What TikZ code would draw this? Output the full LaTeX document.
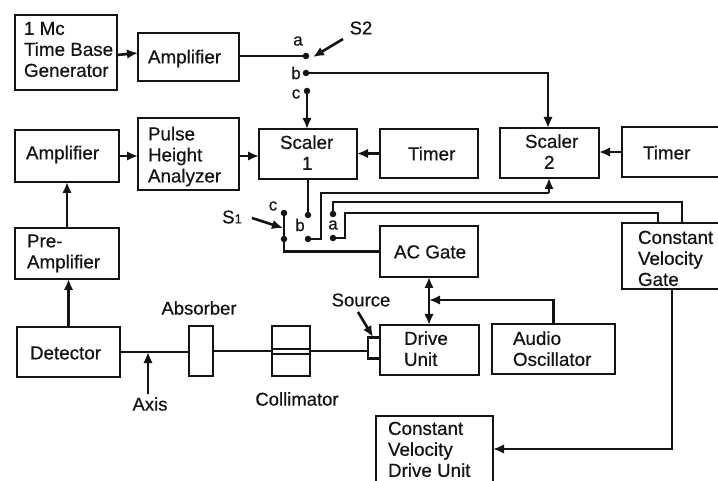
\documentclass[tikz,border=0pt]{standalone}
\usepackage{fontspec}
\setmainfont[FakeBold=0.5]{Liberation Sans}
\usetikzlibrary{arrows.meta,calc}
\tikzset{
  blk/.style={draw=ink,line width=2.6pt,fill=white,inner sep=0pt,outer sep=0pt,rectangle},
  lbl/.style={inner sep=0pt,font=\fontsize{18.5}{21}\selectfont,text=ink},
  sw/.style={inner sep=0pt,font=\fontsize{17}{19}\selectfont,text=ink},
  wire/.style={draw=ink,line width=2.6pt},
  arr/.style={wire,-{Latex[length=11pt,width=9.5pt]}},
  darr/.style={wire,{Latex[length=11pt,width=9.5pt]}-{Latex[length=11pt,width=9.5pt]}},
  dot/.style={circle,fill=ink,inner sep=0pt,minimum size=6.5pt},
}
\definecolor{ink}{gray}{0.08}
% name, x1, y1, x2, y2, text left x, text centre y, text
\newcommand\blkbox[8]{%
  \pgfmathsetmacro\bcx{(#2+#4)/2}\pgfmathsetmacro\bcy{(#3+#5)/2}%
  \pgfmathsetmacro\bw{#4-#2}\pgfmathsetmacro\bh{#5-#3}%
  \pgfmathsetmacro\bdx{#6-\bcx}\pgfmathsetmacro\bdy{\bcy-#7-7.5}%
  \node[blk,minimum width=\bw pt,minimum height=\bh pt] (#1) at (\bcx,\bcy)
    {\fontsize{18.8}{21}\selectfont\color{ink}\smash{\makebox[0pt][l]{\hspace*{\bdx pt}\raisebox{\bdy pt}{\begin{tabular}[c]{@{}l@{}}#8\end{tabular}}}}};%
}
\begin{document}
\begin{tikzpicture}[x=1pt,y=-1pt]
\clip (0,0) rectangle (718,481);
\blkbox{tbg}{15}{15}{117}{90}{24}{48.5}{1 Mc\\Time Base\\Generator}
\blkbox{ampa}{138}{33}{239}{81}{148}{56}{Amplifier}
\blkbox{ampb}{15}{130}{119}{182}{26}{152}{Amplifier}
\blkbox{pha}{138}{118}{239}{190}{148}{154}{Pulse\\Height\\Analyzer}
\blkbox{sca}{259}{129}{357}{179}{280}{152}{Scaler\\\hspace*{22pt}1}
\blkbox{tima}{380}{129}{478}{178}{408}{153}{Timer}
\blkbox{scb}{500}{128}{599}{178}{525}{151}{Scaler\\\hspace*{19pt}2}
\blkbox{timb}{622}{127}{724}{177}{643}{152}{Timer}
\blkbox{acg}{380}{226}{478}{277}{394}{251}{AC Gate}
\blkbox{cvg}{622}{223}{724}{289}{638}{257.5}{Constant\\Velocity\\Gate}
\blkbox{pre}{15}{228}{119}{279}{27}{250.5}{Pre-\\Amplifier}
\blkbox{det}{17}{327}{120}{377}{30}{352}{Detector}
\blkbox{drv}{380}{325}{479}{375}{404}{348}{Drive\\Unit}
\blkbox{aud}{492}{324}{615}{374}{513}{348}{Audio\\Oscillator}
\blkbox{cvd}{376}{416}{493}{495}{388}{448.5}{Constant\\Velocity\\Drive Unit}
\node[blk,minimum width=24pt,minimum height=50pt] (abs) at (201,351) {};
\node[blk,minimum width=38pt,minimum height=50pt] (col) at (291,351) {};
\node[blk,minimum width=12pt,minimum height=21pt] (src) at (374,348) {};

% switch contacts
\node[dot] (s2a) at (306,56) {};
\node[dot] (s2b) at (306,73) {};
\node[dot] (s2c) at (307,91) {};
\node[dot] (s1c) at (284,213) {};
\node[dot] (s1p) at (284,239) {};
\node[dot] (s1b) at (308,215) {};
\node[dot] (s1d) at (308,239) {};
\node[dot] (s1a) at (333,214) {};
\node[dot] (s1e) at (333,238) {};

% labels
\node[lbl] (ts2) at (361,28) {S2};
\node[sw] (la2) at (298,41) {a};
\node[sw] (lb2) at (296,73) {b};
\node[sw] (lc2) at (296,94) {c};
\node[lbl] (ts1) at (232,217) {S{\fontsize{13}{13}\selectfont 1}};
\node[sw] (lc1) at (273,206) {c};
\node[sw] (lb1) at (300,225) {b};
\node[sw] (la1) at (333,225) {a};
\node[lbl] (tabs) at (199,308) {Absorber};
\node[lbl] (tcol) at (297,399) {Collimator};
\node[lbl] (tsrc) at (361,300) {Source};
\node[lbl] (tax) at (150,404) {Axis};

% S2 section
\draw[arr] ([yshift=-2.5pt]tbg.east) -- ([yshift=-0.5pt]tbg.east -| ampa.west);
\draw[wire] (s2a -| ampa.east) -- (s2a);
\coordinate (s2from) at (343,39);
\coordinate (s2to) at (313,57);
\draw[arr] (s2from) -- (s2to);
\draw[arr] (s2b) -| ([xshift=-1.5pt]scb.north);
\draw[arr] (s2c) -- (s2c |- sca.north);

% left column
\draw[arr] (ampb.east) -- (ampb.east -| pha.west);
\draw[arr] (pha.east |- 0,156) -- (sca.west |- 0,156);
\draw[arr] (tima.west) -- (tima.west -| sca.east);
\draw[arr] (timb.west) -- (timb.west -| scb.east);
\draw[arr] (pre.north) -- (pre.north |- ampb.south);
\draw[arr] (det.north) -- (det.north |- pre.south);

% S1 section
\draw[wire] (s1b) -- (s1b |- sca.south);
\coordinate (s1from) at (252,218);
\coordinate (s1to) at (283,228);
\draw[arr] (s1from) -- (s1to);
\draw[wire] (s1c) -- (s1p);
\draw[wire] (s1p) |- (acg.west);
\coordinate (sb2) at (549,193);
\draw[wire] (s1d) -| (321,193) -- (sb2);
\draw[arr] (sb2) -- (sb2 |- scb.south);
\draw[wire] (s1a) |- (682,202) -- (682,223);
\draw[wire] (s1e) -| (345,213) -| (658,223);

% beam line
\draw[wire] (det.east) -- (det.east -| abs.west);
\draw[wire] (abs.east |- 0,351) -- (col.west |- 0,351);
\draw[wire] (col.east |- 0,351) -- (src.west |- 0,351);
\draw[wire,line width=1.8pt] (col.west |- 0,349) -- (col.east |- 0,349);
\draw[wire,line width=1.8pt] (col.west |- 0,354) -- (col.east |- 0,354);
\coordinate (axp) at (148,352);
\draw[arr] (tax.north -| axp) ++(0,-3) -- (axp);
\coordinate (srcp) at (373,337);
\draw[arr] (358,312) -- (srcp);

% drive
\draw[darr] (acg.south) -- (acg.south |- drv.north);
\coordinate (join) at (429,300);
\draw[arr] (aud.north) |- (join);
\draw[arr] (672,289) |- (cvd.east |- 0,449);
\end{tikzpicture}
\end{document}
